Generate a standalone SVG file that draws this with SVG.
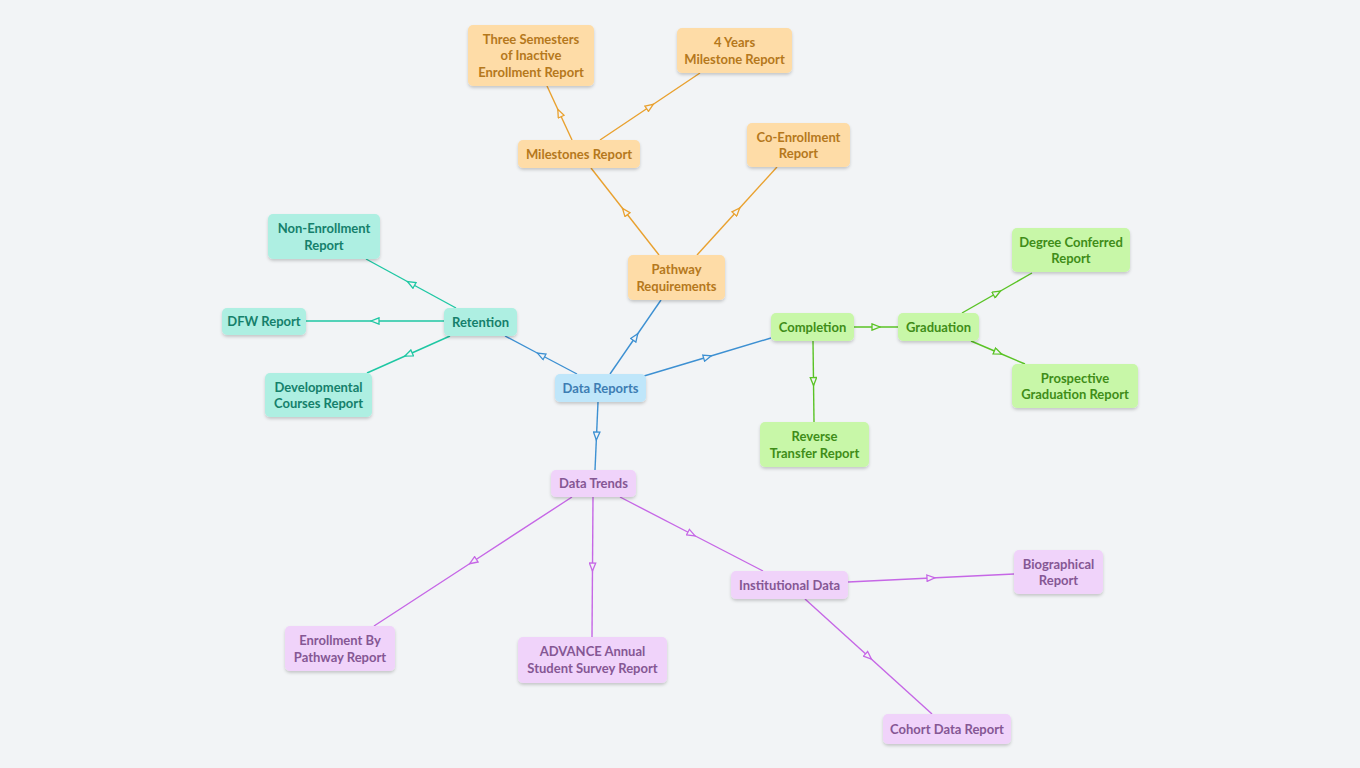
<svg xmlns="http://www.w3.org/2000/svg" width="1360" height="768" viewBox="0 0 1360 768">
<style>
text{font-family:"Source Sans Pro",Lato,"Liberation Sans",sans-serif;font-weight:700;font-size:13px;text-anchor:middle}
.bl rect{fill:#bfe6fa}.bl text{fill:#3d7db3}
.or rect{fill:#fedca7}.or text{fill:#b5781c}
.te rect{fill:#aeefe2}.te text{fill:#15806b}
.gr rect{fill:#c8f7a8}.gr text{fill:#3f8d18}
.pu rect{fill:#f0d3fa}.pu text{fill:#855794}
.node rect{filter:url(#sh)}
#edges polyline{fill:none;stroke-width:1.4}
.eb{stroke:#3d90d2;marker-mid:url(#mb)}
.eo{stroke:#e9a12f;marker-mid:url(#mo)}
.et{stroke:#1ec7a3;marker-mid:url(#mt)}
.eg{stroke:#5ac325;marker-mid:url(#mg)}
.ep{stroke:#c667e6;marker-mid:url(#mp)}
</style>
<defs>
<filter id="sh" x="-20%" y="-20%" width="140%" height="160%"><feDropShadow dx="0" dy="2" stdDeviation="1.5" flood-color="#000" flood-opacity="0.18"/></filter>
<marker id="mb" viewBox="0 0 10 8" refX="5" refY="4" markerWidth="10" markerHeight="8" markerUnits="userSpaceOnUse" orient="auto"><path d="M1,0.8 L9,4 L1,7.2 Z" fill="#f2f4f6" stroke="#3d90d2" stroke-width="1.3"/></marker>
<marker id="mo" viewBox="0 0 10 8" refX="5" refY="4" markerWidth="10" markerHeight="8" markerUnits="userSpaceOnUse" orient="auto"><path d="M1,0.8 L9,4 L1,7.2 Z" fill="#f2f4f6" stroke="#e9a12f" stroke-width="1.3"/></marker>
<marker id="mt" viewBox="0 0 10 8" refX="5" refY="4" markerWidth="10" markerHeight="8" markerUnits="userSpaceOnUse" orient="auto"><path d="M1,0.8 L9,4 L1,7.2 Z" fill="#f2f4f6" stroke="#1ec7a3" stroke-width="1.3"/></marker>
<marker id="mg" viewBox="0 0 10 8" refX="5" refY="4" markerWidth="10" markerHeight="8" markerUnits="userSpaceOnUse" orient="auto"><path d="M1,0.8 L9,4 L1,7.2 Z" fill="#f2f4f6" stroke="#5ac325" stroke-width="1.3"/></marker>
<marker id="mp" viewBox="0 0 10 8" refX="5" refY="4" markerWidth="10" markerHeight="8" markerUnits="userSpaceOnUse" orient="auto"><path d="M1,0.8 L9,4 L1,7.2 Z" fill="#f2f4f6" stroke="#c667e6" stroke-width="1.3"/></marker>
</defs>
<rect width="1360" height="768" fill="#f2f4f6"/>
<g id="edges">
<polyline class="eb" points="577,374 541,355 505,336"/>
<polyline class="eb" points="610,374 635.5,337 661,300"/>
<polyline class="eb" points="644,376 707.5,357 771,338"/>
<polyline class="eb" points="598,402 596.5,436 595,470"/>
<polyline class="eo" points="659,255 625,211.5 591,168"/>
<polyline class="eo" points="697,255 737,211 777,167"/>
<polyline class="eo" points="572,140 559.5,113 547,86"/>
<polyline class="eo" points="600,140 650,106.5 700,73"/>
<polyline class="et" points="456,308 411,283.5 366,259"/>
<polyline class="et" points="444,321 375,321 306,321"/>
<polyline class="et" points="450,336 408.5,354.5 367,373"/>
<polyline class="eg" points="854,327 876,327 898,327"/>
<polyline class="eg" points="813,341 813.5,381.5 814,422"/>
<polyline class="eg" points="962,313 997,293 1032,273"/>
<polyline class="eg" points="971,341 998,352.5 1025,364"/>
<polyline class="ep" points="572,497 473,561.5 374,626"/>
<polyline class="ep" points="593,497 592.5,567 592,637"/>
<polyline class="ep" points="620,497 691.5,534 763,571"/>
<polyline class="ep" points="848,582 931,578 1014,574"/>
<polyline class="ep" points="805,599 868.5,656.5 932,714"/>
</g>
<g id="n-data-reports" class="node bl"><rect x="555" y="374" width="91" height="28" rx="5"/><text x="600.5" y="392.5">Data Reports</text></g>
<g id="n-pathway" class="node or"><rect x="628" y="255" width="97" height="45" rx="5"/><text x="676.5" y="274">Pathway</text><text x="676.5" y="290.5">Requirements</text></g>
<g id="n-milestones" class="node or"><rect x="518" y="140" width="122" height="28" rx="5"/><text x="579" y="158.5">Milestones Report</text></g>
<g id="n-three" class="node or"><rect x="468" y="25" width="126" height="61" rx="5"/><text x="531" y="43.5">Three Semesters</text><text x="531" y="60">of Inactive</text><text x="531" y="76.5">Enrollment Report</text></g>
<g id="n-4years" class="node or"><rect x="677" y="28" width="115" height="45" rx="5"/><text x="734.5" y="47">4 Years</text><text x="734.5" y="63.5">Milestone Report</text></g>
<g id="n-coenroll" class="node or"><rect x="747" y="123" width="103" height="44" rx="5"/><text x="798.5" y="141.5">Co-Enrollment</text><text x="798.5" y="158">Report</text></g>
<g id="n-retention" class="node te"><rect x="444" y="308" width="73" height="28" rx="5"/><text x="480.5" y="326.5">Retention</text></g>
<g id="n-nonenroll" class="node te"><rect x="268" y="214" width="112" height="45" rx="5"/><text x="324" y="233">Non-Enrollment</text><text x="324" y="249.5">Report</text></g>
<g id="n-dfw" class="node te"><rect x="222" y="308" width="84" height="27" rx="5"/><text x="264" y="326">DFW Report</text></g>
<g id="n-dev" class="node te"><rect x="265" y="373" width="107" height="44" rx="5"/><text x="318.5" y="391.5">Developmental</text><text x="318.5" y="408">Courses Report</text></g>
<g id="n-completion" class="node gr"><rect x="771" y="313" width="83" height="28" rx="5"/><text x="812.5" y="331.5">Completion</text></g>
<g id="n-graduation" class="node gr"><rect x="898" y="313" width="81" height="28" rx="5"/><text x="938.5" y="331.5">Graduation</text></g>
<g id="n-degree" class="node gr"><rect x="1012" y="228" width="118" height="44" rx="5"/><text x="1071" y="246.5">Degree Conferred</text><text x="1071" y="263">Report</text></g>
<g id="n-prospective" class="node gr"><rect x="1012" y="364" width="126" height="44" rx="5"/><text x="1075" y="382.5">Prospective</text><text x="1075" y="399">Graduation Report</text></g>
<g id="n-reverse" class="node gr"><rect x="760" y="422" width="109" height="45" rx="5"/><text x="814.5" y="441">Reverse</text><text x="814.5" y="457.5">Transfer Report</text></g>
<g id="n-trends" class="node pu"><rect x="551" y="470" width="85" height="27" rx="5"/><text x="593.5" y="488">Data Trends</text></g>
<g id="n-enrollpath" class="node pu"><rect x="285" y="626" width="110" height="45" rx="5"/><text x="340" y="645">Enrollment By</text><text x="340" y="661.5">Pathway Report</text></g>
<g id="n-advance" class="node pu"><rect x="518" y="637" width="149" height="46" rx="5"/><text x="592.5" y="656">ADVANCE Annual</text><text x="592.5" y="672.5">Student Survey Report</text></g>
<g id="n-institutional" class="node pu"><rect x="731" y="571" width="117" height="28" rx="5"/><text x="789.5" y="589.5">Institutional Data</text></g>
<g id="n-bio" class="node pu"><rect x="1014" y="550" width="89" height="44" rx="5"/><text x="1058.5" y="568.5">Biographical</text><text x="1058.5" y="585">Report</text></g>
<g id="n-cohort" class="node pu"><rect x="883" y="714" width="128" height="30" rx="5"/><text x="947" y="733.5">Cohort Data Report</text></g>
</svg>
